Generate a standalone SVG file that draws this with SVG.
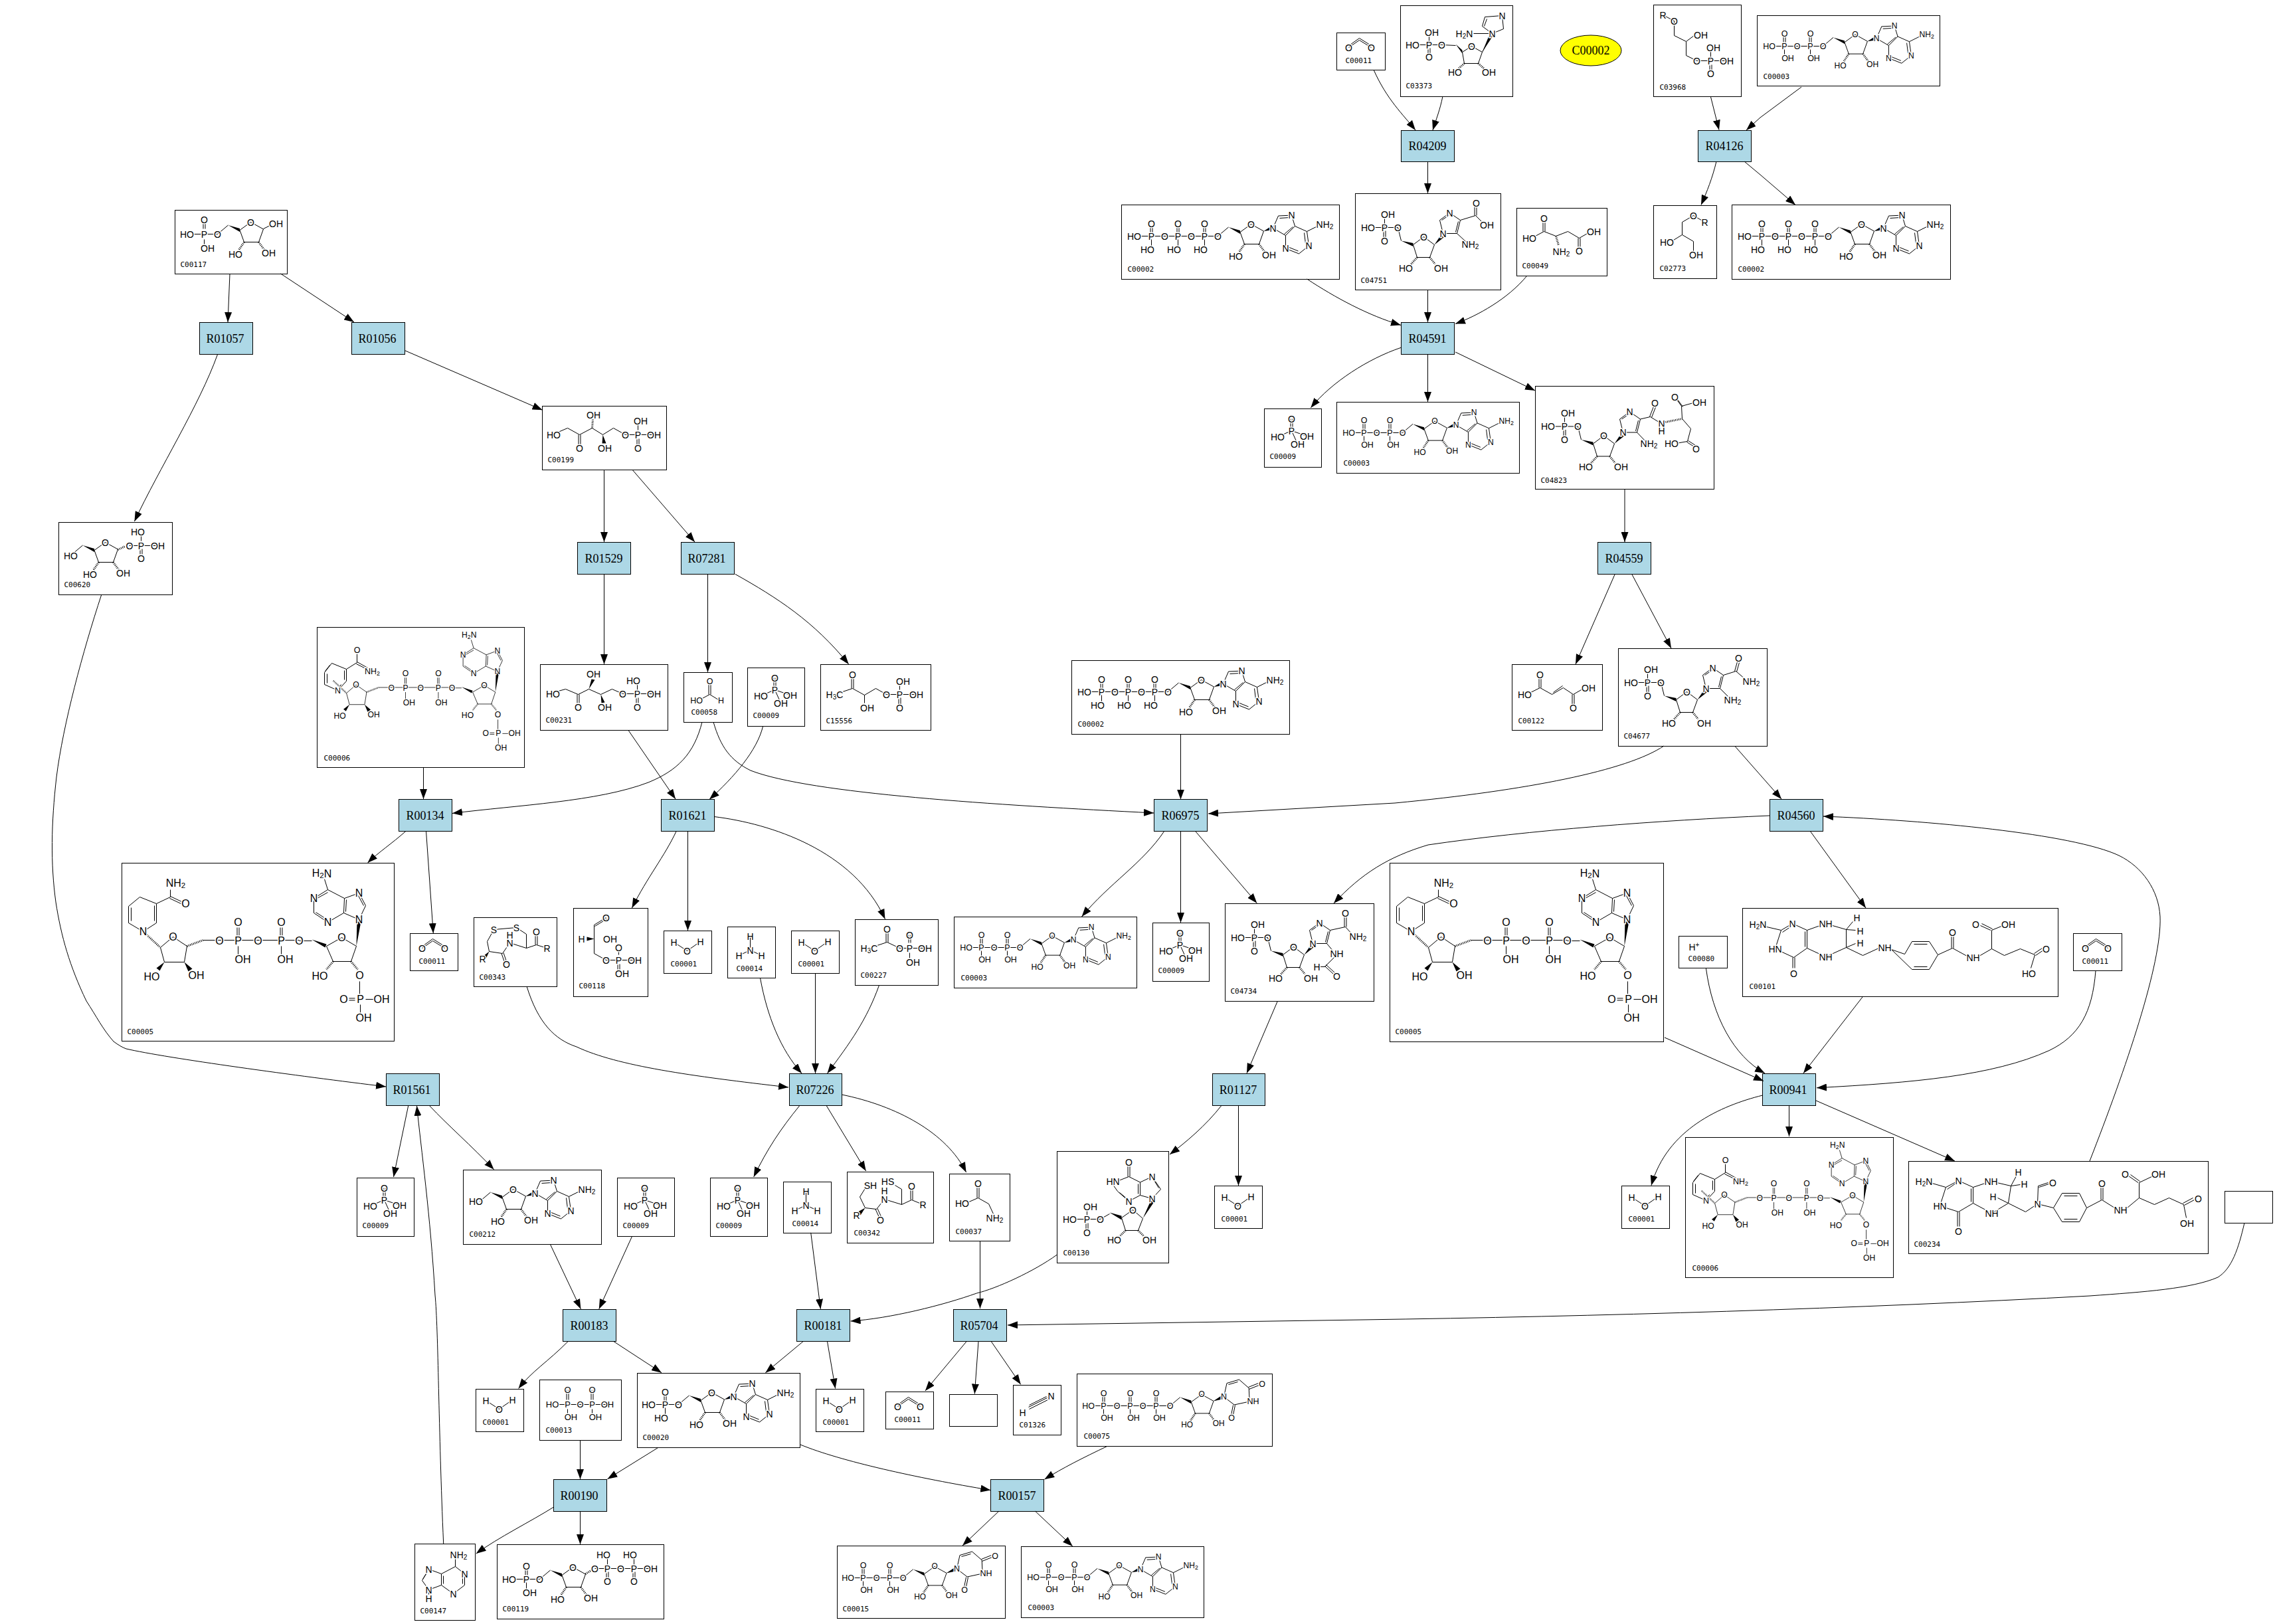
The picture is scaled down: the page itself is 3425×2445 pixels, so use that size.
<svg xmlns="http://www.w3.org/2000/svg" width="3425" height="2445" viewBox="0 0 3425 2445">
<style>
svg{font-size:14px;background:#fff}
text{font-family:"Liberation Sans",Arial,sans-serif;text-anchor:middle;dominant-baseline:central;fill:#000;stroke:#fff;stroke-width:3px;paint-order:stroke}
path{fill:none;stroke:#000;stroke-width:1}
polygon{fill:#000}
.h{stroke-width:3;stroke-dasharray:1 1.5}
.s{font-size:.72em}
.l{font-family:"DejaVu Sans Mono",monospace;font-size:11px;text-anchor:start;stroke:none}
.t{font-family:"Liberation Serif",serif;font-size:18px;stroke:none}
.n{fill:#fff;stroke:#000;stroke-width:1}
.x{fill:#add8e6;stroke:#000;stroke-width:1}
.y{fill:#ff0;stroke:#000;stroke-width:1}
.e path{marker-end:url(#ar)}
.f11{font-size:11.5px}.f12{font-size:12.5px}.f13{font-size:13px}.f15{font-size:16px}.f16{font-size:16px}
</style>
<defs>
<marker id="ar" markerUnits="userSpaceOnUse" markerWidth="15" markerHeight="11" refX="15" refY="5.5" orient="auto"><polygon points="0,0 15,5.5 0,11"/></marker>
<g id="p1"><path d="M-1.5 -5V-14M1.5 -5V-14M0 5V15"/><text>P</text><text y="-19">O</text><text x="-6" y="20">HO</text></g>
<g id="p2"><path d="M-1.5 -5V-14M1.5 -5V-14M0 5V13"/><text>P</text><text y="-19">O</text><text x="5" y="18">OH</text></g>
<g id="rib"><path d="M0 0L16 -13.5M33.5 -6L50 -18L69 -7.5L62 12H40Z"/><polygon points="16,-13.5 33.5,-8.5 33.5,-3.5"/><path class="h" d="M40 12L32 24M62 12L70 23"/><text x="50" y="-18">O</text><text x="27" y="30">HO</text><text x="77" y="28">OH</text></g>
<g id="ade"><polygon points="69,-7.5 79,-14 80,-9"/><path d="M83 -12L91 -30.5L111 -31.4L116 -15L102 -1L83 -12M93 -27L108 -28M113 -14L100 -3M102 -1V18.6L122 26.5L137 14.5L134 -7L116 -15M105 16L121 22.5M132 11L130 -5M134 -7L150 -15"/><text x="83" y="-12">N</text><text x="111" y="-31.4">N</text><text x="102" y="18.6">N</text><text x="137" y="14.5">N</text><text x="161" y="-18">NH<tspan class="s" dy="3">2</tspan></text></g>
<g id="adn"><use href="#rib"/><use href="#ade"/></g>
<g id="urd"><use href="#rib" transform="scale(.95)"/><polygon points="65,-7 77,-15 79,-10"/><path d="M81 -13.5L85.5 -34L104 -39.5L118.7 -26.7L119.7 -6.5L96.7 -1.5ZM88 -32L102 -36M118 -28L133 -34M119 -25L134 -31M95 -1L92 14M98 -1L95 14"/><text x="81" y="-13.5">N</text><text x="138.6" y="-32.5">O</text><text x="125" y="-6.5">NH</text><text x="92.6" y="18.5">O</text></g>
<g id="atp"><path d="M28 47H145"/><use href="#p1" x="45" y="47"/><use href="#p1" x="85" y="47"/><use href="#p1" x="125" y="47"/><text x="19" y="47">HO</text><text x="65" y="47">O</text><text x="105" y="47">O</text><use href="#adn" x="145" y="47"/><text x="145" y="47">O</text></g>
<g id="adp" class="f12"><path d="M26 46H99"/><use href="#p2" x="41" y="46"/><use href="#p2" x="80" y="46"/><text x="18" y="46">HO</text><text x="60" y="46">O</text><use href="#adn" transform="translate(99 46) scale(.97)"/><text x="99" y="46">O</text></g>
<g id="aic"><path d="M28 51H64M44 51V35M42.5 56V66M45.5 56V66M64 51L69 71M87 77L103 65L119 77L112 96H93ZM132 60L127 40L142 29L158 40L153 60ZM130 40L142 32M155 42L151 58"/><polygon points="69,71 87,74.5 87,79.5"/><polygon points="119,77 129,62 133,66"/><path class="h" d="M93 96L84 106M112 96L120 106"/><text x="49" y="31">OH</text><text x="19" y="51">HO</text><text x="44" y="51">P</text><text x="64" y="51">O</text><text x="44" y="71">O</text><text x="103" y="65">O</text><text x="76" y="112">HO</text><text x="129" y="112">OH</text><text x="132" y="60">N</text><text x="142" y="29">N</text></g>
<g id="nadc"><path d="M58 127L77 111L98 125L94 149H64ZM122 116H267M173.5 109V97M176.5 109V97M175 125V138M238.5 109V97M241.5 109V97M240 125V138M267 117H286M308 125L331 112L353 125L345 148H318ZM358 178V197M359 213V225M342 203.5H351M342 206.5H351M367 205H382M357 85L367 64L357 45L335 53L334 75ZM364 64L356 49M338 55L337 73M334 75L310 89L289 75V53L310 40L335 53M309 85L292 74M292 54L310 44M310 40L305 24"/><path class="h" d="M32 103L58 127M98 125L122 116M318 148L308 160M345 148L355 160"/><polygon points="286,115 308,122 306,127"/><polygon points="353,125 354,88 360,88"/><polygon points="64,149 52,158 57,162"/><polygon points="94,149 100,163 106,159"/><text x="77" y="111">O</text><text x="147" y="117">O</text><text x="175" y="117">P</text><text x="175" y="89">O</text><text x="182" y="145">OH</text><text x="205" y="117">O</text><text x="240" y="117">P</text><text x="240" y="89">O</text><text x="246" y="145">OH</text><text x="267" y="117">O</text><text x="331" y="112">O</text><text x="45" y="171">HO</text><text x="112" y="169">OH</text><text x="298" y="170">HO</text><text x="358" y="169">O</text><text x="359" y="205">P</text><text x="334" y="205">O</text><text x="391" y="205">OH</text><text x="364" y="233">OH</text><text x="357" y="85">N</text><text x="357" y="45">N</text><text x="310" y="89">N</text><text x="289" y="53">N</text><text x="301" y="15">H<tspan class="s" dy="3">2</tspan><tspan dy="-3">N</tspan></text></g>
<g id="nadph"><use href="#nadc"/><path d="M73 51V40M52 61L73 51M73 50L90 58M72 53L89 61M52 61L27 51L10 65V90L32 103L52 90ZM14 67V87M49 64V87"/><text x="32" y="103">N</text><text x="81" y="30">NH<tspan class="s" dy="3">2</tspan></text><text x="96" y="61">O</text></g>
<g id="nadp"><use href="#nadc" class="f15" transform="scale(.76 .78)"/><path d="M60 53V40M44 63L60 53M60 52L76 61M59 55L75 63M44 63L22 54L11 68V86L31 95L44 81ZM15 70V84M41 65V79M19 57L12 66M31 95L36 86"/><text x="31" y="95" class="f12">N</text><text x="83" y="66" class="f12">NH<tspan class="s" dy="3">2</tspan></text><text x="60" y="34" class="f12">O</text></g>
<g id="h2o"><path d="M15 17L35 30L55 16"/><text x="15" y="17">H</text><text x="35" y="30">O</text><text x="55" y="16">H</text></g>
<g id="co2"><path d="M18 22L34 11L52 22M20 18L34 8L50 18"/><text x="18" y="22">O</text><text x="52" y="22">O</text></g>
<g id="nh3"><path d="M34 14V35L17 43M34 35L51 43"/><text x="34" y="14">H</text><text x="34" y="35">N</text><text x="17" y="43">H</text><text x="51" y="43">H</text></g>
<g id="pi"><path d="M39.5 15V33M42.5 15V33M41 33L20 42M41 33L64 41M41 33L50 53"/><text x="41" y="15">O</text><text x="41" y="33">P</text><text x="20" y="42">HO</text><text x="64" y="41">OH</text><text x="50" y="53">OH</text></g>
</defs>
<g id="nodes">
<g id="C00011_1" transform="translate(2012.5 49.5)"><rect class="n" width="73" height="56"/><use href="#co2"/><text class="l" x="13" y="42">C00011</text></g>
<g id="C03373" transform="translate(2108.5 8.5)"><rect class="n" width="169" height="137"/><path d="M26 59H62M43 59V45M41.5 64V72M44.5 64V72M62 59L83 60M93 70L107 61L123 70L117 87H96ZM138 42L123 31L127 17L153 15L155 35ZM126 31L130 20M138 42L123 70M138 42L110 42"/><polygon points="83,58 93,67 93,72"/><polygon points="123,70 135,41 140,44"/><path class="h" d="M96 87L87 95M117 87L126 95"/><text x="18" y="59">HO</text><text x="43" y="59">P</text><text x="47" y="40">OH</text><text x="43" y="77">O</text><text x="62" y="59">O</text><text x="107" y="61">O</text><text x="82" y="100">HO</text><text x="133" y="100">OH</text><text x="138" y="42">N</text><text x="153" y="15">N</text><text x="96" y="42">H<tspan class="s" dy="3">2</tspan><tspan dy="-3">N</tspan></text><text class="l" x="8" y="121">C03373</text></g>
<g id="C00002" ><ellipse class="y" cx="2395" cy="76" rx="46" ry="23"/><text class="t" x="2395" y="76">C00002</text></g>
<g id="C03968" transform="translate(2489.5 7.5)"><rect class="n" width="132" height="138"/><path d="M14 15L31 24V46L49 55V76L65 84H110M49 55L61 46"/><path d="M86 84V70M84.5 90V98M87.5 90V98"/><text x="14" y="15">R</text><text x="31" y="24">O</text><text x="71" y="45">OH</text><text x="65" y="84">O</text><text x="86" y="84">P</text><text x="90" y="64">OH</text><text x="110" y="84">OH</text><text x="86" y="103">O</text><text class="l" x="9" y="124">C03968</text></g>
<g id="C00003_1" transform="translate(2645.5 23.5)"><rect class="n" width="275" height="106"/><use href="#adp"/><text class="l" x="9" y="92">C00003</text></g>
<g id="R04209"><rect class="x" x="2109.5" y="196.5" width="80" height="47"/><text class="t" x="2149" y="220">R04209</text></g>
<g id="R04126"><rect class="x" x="2556.5" y="196.5" width="80" height="47"/><text class="t" x="2596" y="220">R04126</text></g>
<g id="C00002_1" transform="translate(1688.5 308.5)"><rect class="n" width="328" height="112"/><use href="#atp"/><text class="l" x="9" y="97">C00002</text></g>
<g id="C04751" transform="translate(2040.5 291.5)"><rect class="n" width="219" height="145"/><use href="#aic"/><path d="M153 60L166 72M158 40L181 33M179.5 33V20M182.5 33V20M181 33L192 44"/><text x="173" y="76">NH<tspan class="s" dy="3">2</tspan></text><text x="182" y="14">O</text><text x="198" y="47">OH</text><text class="l" x="8" y="131">C04751</text></g>
<g id="C00049" transform="translate(2283.5 313.5)"><rect class="n" width="136" height="102"/><path d="M39.5 35V20M42.5 35V20M41 35L26 43M41 35L59 42L77 35L94 45L108 37M92.5 45V58M95.5 45V58"/><path class="h" d="M59 42L63 56"/><text x="41" y="15">O</text><text x="19" y="45">HO</text><text x="67" y="65">NH<tspan class="s" dy="3">2</tspan></text><text x="116" y="35">OH</text><text x="94" y="64">O</text><text class="l" x="8" y="87">C00049</text></g>
<g id="C02773" transform="translate(2489.5 309.5)"><rect class="n" width="95" height="110"/><path d="M60 15L77 25M60 15L43 25V44L60 54V70M43 44L30 52"/><text x="60" y="15">O</text><text x="77" y="25">R</text><text x="20" y="55">HO</text><text x="64" y="74">OH</text><text class="l" x="9" y="95">C02773</text></g>
<g id="C00002_2" transform="translate(2607.5 308.5)"><rect class="n" width="329" height="112"/><use href="#atp"/><text class="l" x="9" y="97">C00002</text></g>
<g id="R04591"><rect class="x" x="2109.5" y="485.5" width="80" height="48"/><text class="t" x="2149" y="510">R04591</text></g>
<g id="C00009_1" transform="translate(1903.5 615.5)"><rect class="n" width="86" height="88"/><use href="#pi"/><text class="l" x="8" y="72">C00009</text></g>
<g id="C00003_2" transform="translate(2012.5 605.5)"><rect class="n" width="275" height="107"/><use href="#adp"/><text class="l" x="10" y="92">C00003</text></g>
<g id="C04823" transform="translate(2311.5 581.5)"><rect class="n" width="269" height="155"/><use href="#aic" y="9.5"/><path d="M153 69.5L165 82M158 49.5L173 46M172 46L179 28M175 47L182 29M173 46L186 54M221 49L220 30M220 30L212 19M222 31L214 20M220 30L238 25M221 49L234 64L229 83L212 86M228 84L239 91M230 82L241 89"/><path class="h" d="M196 54L221 49"/><text x="171" y="86">NH<tspan class="s" dy="3">2</tspan></text><text x="180" y="25">O</text><text x="190" y="56">N</text><text x="190" y="67">H</text><text x="210" y="16">O</text><text x="247" y="24">OH</text><text x="205" y="86">HO</text><text x="242" y="94">O</text><text class="l" x="8" y="142">C04823</text></g>
<g id="C00117" transform="translate(263.5 316.5)"><rect class="n" width="169" height="96"/><path d="M26 36H64M42.5 16V28M45.5 16V28M44 44V52"/><use href="#rib" x="64" y="36"/><path d="M133 28L145 22"/><text x="18" y="36">HO</text><text x="44" y="36">P</text><text x="44" y="14">O</text><text x="49" y="57">OH</text><text x="64" y="36">O</text><text x="152" y="20">OH</text><text class="l" x="8" y="82">C00117</text></g>
<g id="R01057"><rect class="x" x="300.5" y="485.5" width="80" height="48"/><text class="t" x="339" y="510">R01057</text></g>
<g id="R01056"><rect class="x" x="529.5" y="485.5" width="80" height="48"/><text class="t" x="568" y="510">R01056</text></g>
<g id="C00620" transform="translate(88.5 786.5)"><rect class="n" width="171" height="109"/><use href="#rib" x="20" y="48"/><path class="h" d="M89 41L100 36"/><path d="M106 35H149M124 20V28M122.5 40V48M125.5 40V48"/><text x="18" y="50">HO</text><text x="106.5" y="35">O</text><text x="124" y="35">P</text><text x="119" y="14">HO</text><text x="124" y="54">O</text><text x="149" y="35">OH</text><text class="l" x="8" y="94">C00620</text></g>
<g id="C00199" transform="translate(816.5 611.5)"><rect class="n" width="187" height="96"/><path d="M24 39L38 33L56 43L75 33L91 43L107 33L125 43H168M54.5 43V58M57.5 43V58M144 28V36M142.5 49V58M145.5 49V58"/><path class="h" d="M75 33L76 20"/><polygon points="91,43 90,56 96,56"/><text x="17" y="43">HO</text><text x="56" y="63">O</text><text x="77" y="13">OH</text><text x="94" y="63">OH</text><text x="125" y="43">O</text><text x="144" y="43">P</text><text x="148" y="22">OH</text><text x="144" y="63">O</text><text x="168" y="43">OH</text><text class="l" x="8" y="81">C00199</text></g>
<g id="R01529"><rect class="x" x="869.5" y="816.5" width="80" height="48"/><text class="t" x="909" y="841">R01529</text></g>
<g id="R07281"><rect class="x" x="1025.5" y="816.5" width="80" height="48"/><text class="t" x="1064" y="841">R07281</text></g>
<g id="C00006_1" transform="translate(477.5 944.5)"><rect class="n" width="312" height="211"/><use href="#nadp"/><text class="l" x="10" y="197">C00006</text></g>
<g id="C00231" transform="translate(813.5 1000.5)"><rect class="n" width="192" height="99"/><path d="M27 40L38 37L57 45L73 37L91 45L108 37L124 44H171M55.5 45V58M58.5 45V58M146 30V38M144.5 50V58M147.5 50V58"/><polygon points="73,37 77,22 82,23"/><polygon points="91,45 92,58 97,57"/><text x="19" y="44">HO</text><text x="57" y="64">O</text><text x="80" y="14">OH</text><text x="97" y="64">OH</text><text x="124" y="44">O</text><text x="146" y="44">P</text><text x="140" y="24">HO</text><text x="146" y="64">O</text><text x="171" y="44">OH</text><text class="l" x="8" y="84">C00231</text></g>
<g id="C00058" transform="translate(1029.5 1012.5)"><rect class="n" width="73" height="75"/><path d="M37.5 33V18M40.5 33V18M39 33L26 40M39 33L52 41"/><text x="39" y="13" class="f12">O</text><text x="19" y="42" class="f12">HO</text><text x="56" y="42" class="f12">H</text><text class="l" x="11" y="60">C00058</text></g>
<g id="C00009_2" transform="translate(1125.5 1005.5)"><rect class="n" width="86" height="88"/><use href="#pi"/><text class="l" x="8" y="72">C00009</text></g>
<g id="C15556" transform="translate(1235.5 1000.5)"><rect class="n" width="166" height="99"/><path d="M30 42L48 36L66 46L83 36L99 45H144M46.5 36V20M49.5 36V20M66 46V58M119 30V38M117.5 50V60M120.5 50V60"/><text x="21" y="45">H<tspan class="s" dy="3">3</tspan><tspan dy="-3">C</tspan></text><text x="48" y="15">O</text><text x="70" y="65">OH</text><text x="99" y="45">O</text><text x="119" y="45">P</text><text x="124" y="25">OH</text><text x="119" y="65">O</text><text x="144" y="45">OH</text><text class="l" x="8" y="85">C15556</text></g>
<g id="C00122" transform="translate(2276.5 1000.5)"><rect class="n" width="136" height="99"/><path d="M40.5 35V20M43.5 35V20M42 35L26 43M42 35L60 45L77 35L92 45L106 37M62 42L76 32M90.5 45V60M93.5 45V60"/><text x="42" y="15">O</text><text x="19" y="45">HO</text><text x="115" y="35">OH</text><text x="92" y="65">O</text><text class="l" x="9" y="85">C00122</text></g>
<g id="C04677" transform="translate(2436.5 976.5)"><rect class="n" width="224" height="147"/><use href="#aic"/><path d="M153 60L165 72M158 40L177 34M175 34L179 20M178 35L182 21M177 34L192 47"/><text x="172" y="77">NH<tspan class="s" dy="3">2</tspan></text><text x="181" y="14">O</text><text x="200" y="49">NH<tspan class="s" dy="3">2</tspan></text><text class="l" x="8" y="132">C04677</text></g>
<g id="R04559"><rect class="x" x="2405.5" y="816.5" width="80" height="48"/><text class="t" x="2445" y="841">R04559</text></g>
<g id="C00002_3" transform="translate(1613.5 994.5)"><rect class="n" width="328" height="111"/><use href="#atp"/><text class="l" x="9" y="96">C00002</text></g>
<g id="R00134"><rect class="x" x="600.5" y="1203.5" width="80" height="48"/><text class="t" x="640" y="1228">R00134</text></g>
<g id="R01621"><rect class="x" x="995.5" y="1203.5" width="80" height="48"/><text class="t" x="1035" y="1228">R01621</text></g>
<g id="R06975"><rect class="x" x="1737.5" y="1203.5" width="80" height="48"/><text class="t" x="1777" y="1228">R06975</text></g>
<g id="R04560"><rect class="x" x="2664.5" y="1203.5" width="80" height="48"/><text class="t" x="2704" y="1228">R04560</text></g>
<g id="C00005_1" transform="translate(183.5 1299.5)"><rect class="n" width="410" height="268"/><use href="#nadph" class="f16"/><text class="l" x="8" y="254">C00005</text></g>
<g id="C00011_2" transform="translate(617.5 1405.5)"><rect class="n" width="72" height="56"/><use href="#co2"/><text class="l" x="13" y="42">C00011</text></g>
<g id="C00343" transform="translate(713.5 1381.5)"><rect class="n" width="125" height="104"/><path d="M30 18L64 15L79 25V46L94 41L110 46M30 18L20 36L23 51L43 54L54 38L79 46M41.5 54L47 70M44.5 53L50 69M92.5 41V25M95.5 41V25"/><polygon points="23,51 14,58 18,62"/><text x="30" y="18">S</text><text x="64" y="15">S</text><text x="13" y="62">R</text><text x="49" y="70">O</text><text x="54" y="26">H</text><text x="54" y="38">N</text><text x="94" y="21">O</text><text x="110" y="46">R</text><text class="l" x="8" y="90">C00343</text></g>
<g id="C00118" transform="translate(863.5 1367.5)"><rect class="n" width="112" height="133"/><path d="M31 25L49 14M32 27L50 16M31 25V68L49 78H92M68 62V70M66.5 84V92M69.5 84V92"/><polygon points="31,46 20,43 20,49"/><text x="49" y="14">O</text><text x="12" y="46">H</text><text x="55" y="46">OH</text><text x="49" y="78">O</text><text x="68" y="78">P</text><text x="68" y="59">O</text><text x="92" y="78">OH</text><text x="73" y="98">OH</text><text class="l" x="8" y="117">C00118</text></g>
<g id="C00001_1" transform="translate(999.5 1401.5)"><rect class="n" width="72" height="64"/><use href="#h2o"/><text class="l" x="10" y="49.5">C00001</text></g>
<g id="C00014_1" transform="translate(1095.5 1395.5)"><rect class="n" width="72" height="77"/><use href="#nh3"/><text class="l" x="13" y="63">C00014</text></g>
<g id="C00001_2" transform="translate(1191.5 1401.5)"><rect class="n" width="72" height="64"/><use href="#h2o"/><text class="l" x="10" y="49.5">C00001</text></g>
<g id="C00227" transform="translate(1287.5 1384.5)"><rect class="n" width="125" height="99"/><path d="M30 40L48 34L67 43H105M46.5 34V20M49.5 34V20M80.5 23V35M83.5 23V35M82 50V58"/><text x="21" y="43">H<tspan class="s" dy="3">3</tspan><tspan dy="-3">C</tspan></text><text x="48" y="14">O</text><text x="67" y="43">O</text><text x="82" y="43">P</text><text x="82" y="23">O</text><text x="105" y="43">OH</text><text x="87" y="64">OH</text><text class="l" x="8" y="84">C00227</text></g>
<g id="C00003_3" transform="translate(1436.5 1380.5)"><rect class="n" width="275" height="107"/><use href="#adp"/><text class="l" x="10" y="92">C00003</text></g>
<g id="C00009_3" transform="translate(1735.5 1389.5)"><rect class="n" width="85" height="88"/><use href="#pi"/><text class="l" x="8" y="72">C00009</text></g>
<g id="C04734" transform="translate(1844.5 1360.5)"><rect class="n" width="224" height="147"/><use href="#aic"/><path d="M153 60L163 72M158 40L181 35M179.5 35V20M182.5 35V20M181 35L192 47M165 80L150 95H143M150 94L163 106M152 92L165 104"/><text x="181" y="14">O</text><text x="200" y="49">NH<tspan class="s" dy="3">2</tspan></text><text x="168" y="75.5">NH</text><text x="138" y="95">H</text><text x="168" y="109">O</text><text class="l" x="8" y="132">C04734</text></g>
<g id="C00005_2" transform="translate(2092.5 1299.5)"><rect class="n" width="412" height="269"/><use href="#nadph" class="f16"/><text class="l" x="8" y="254">C00005</text></g>
<g id="C00080" transform="translate(2527.5 1409.5)"><rect class="n" width="73" height="48"/><text x="23" y="16">H<tspan class="s" dy="-4">+</tspan></text><text class="l" x="14" y="34">C00080</text></g>
<g id="C00101" transform="translate(2623.5 1367.5)"><rect class="n" width="475" height="133"/><path d="M32 27L58 33L75 23L97 33L125 23L156 32V59L125 73L97 60V33M94 35V58M58 33L49 61L77 74L97 60M60 36L72 28M75.5 74V90M78.5 74V90M156 32L166 20M156 32L170 33M156 59L170 53M156 59L181 71L205 60M224 62L244 69L255 50H281L294 70L281 92H255ZM258 54H278M258 88H278M294 70L316 60L338 72M314.5 60V42M317.5 60V42M356 72L375 61L394 71L418 61L440 70M375 61V33M373.5 33L358 26M376 31L360 23M375 33L392 26M439 68L451 60M441 71L453 63M440 70L434 90"/><text x="23" y="24">H<tspan class="s" dy="3">2</tspan><tspan dy="-3">N</tspan></text><text x="75" y="23">N</text><text x="125" y="23">NH</text><text x="172" y="14">H</text><text x="177" y="34">H</text><text x="177" y="52">H</text><text x="125" y="73">NH</text><text x="49" y="61">HN</text><text x="77" y="98">O</text><text x="214" y="59">NH</text><text x="316" y="36">O</text><text x="347" y="74">NH</text><text x="351" y="24">O</text><text x="400" y="24">OH</text><text x="457" y="61">O</text><text x="431" y="98">HO</text><text class="l" x="10" y="118">C00101</text></g>
<g id="C00011_3" transform="translate(3121.5 1405.5)"><rect class="n" width="73" height="56"/><use href="#co2"/><text class="l" x="13" y="42">C00011</text></g>
<g id="R01561"><rect class="x" x="581.5" y="1616.5" width="80" height="48"/><text class="t" x="620" y="1641">R01561</text></g>
<g id="R07226"><rect class="x" x="1188.5" y="1616.5" width="79" height="48"/><text class="t" x="1227" y="1641">R07226</text></g>
<g id="R01127"><rect class="x" x="1825.5" y="1616.5" width="79" height="48"/><text class="t" x="1864" y="1641">R01127</text></g>
<g id="R00941"><rect class="x" x="2653.5" y="1616.5" width="80" height="48"/><text class="t" x="2692" y="1641">R00941</text></g>
<g id="C00009_4" transform="translate(537.5 1773.5)"><rect class="n" width="86" height="88"/><use href="#pi"/><text class="l" x="8" y="72">C00009</text></g>
<g id="C00212" transform="translate(697.5 1761.5)"><rect class="n" width="208" height="112"/><use href="#adn" x="25" y="47"/><text x="19" y="47">HO</text><text class="l" x="9" y="97">C00212</text></g>
<g id="C00009_5" transform="translate(929.5 1773.5)"><rect class="n" width="86" height="88"/><use href="#pi"/><text class="l" x="8" y="72">C00009</text></g>
<g id="C00009_6" transform="translate(1069.5 1773.5)"><rect class="n" width="86" height="88"/><use href="#pi"/><text class="l" x="8" y="72">C00009</text></g>
<g id="C00014_2" transform="translate(1179.5 1779.5)"><rect class="n" width="72" height="77"/><use href="#nh3"/><text class="l" x="13" y="63">C00014</text></g>
<g id="C00342" transform="translate(1275.5 1764.5)"><rect class="n" width="130" height="107"/><path d="M28 23L19 37.5L27 54L44 56L56 41L82 49M42.5 56L48 68M45.5 55L51 67M82 49V26L72 20M82 49L97 42L114 49M95.5 42V25M98.5 42V25"/><polygon points="27,54 16,60 20,65"/><text x="35" y="20">SH</text><text x="14" y="65">R</text><text x="50" y="72">O</text><text x="56" y="28">H</text><text x="56" y="41">N</text><text x="61" y="14">HS</text><text x="97" y="21">O</text><text x="114" y="49">R</text><text class="l" x="10" y="92">C00342</text></g>
<g id="C00037" transform="translate(1429.5 1767.5)"><rect class="n" width="91" height="101"/><path d="M41.5 36V19M44.5 36V19M43 36L27 43M43 36L59 45L66 60"/><text x="43" y="14">O</text><text x="19" y="44">HO</text><text x="68" y="66">NH<tspan class="s" dy="3">2</tspan></text><text class="l" x="9" y="86.5">C00037</text></g>
<g id="C00130" transform="translate(1591.5 1733.5)"><rect class="n" width="168" height="168"/><path d="M106.5 38V21M109.5 38V21M108 38L90 45M84 50L91 60L108 75L125 66V46.5L108 38M94 62L106 72M122 64V49M125 46.5L143 38L156 57L143 71L125 66M145 42L153 55M27 102H65M45 90V96M43.5 108V118M46.5 108V118M65 102L79 94M97 100L114 88L129 101L122 119H103Z"/><polygon points="79,92 97,97 97,103"/><polygon points="129,101 141,74 146,76"/><path class="h" d="M103 119L94 128M122 119L131 128"/><text x="108" y="16">O</text><text x="84" y="45">HN</text><text x="108" y="75">N</text><text x="143" y="38">N</text><text x="143" y="71">N</text><text x="114" y="88">O</text><text x="65" y="102">O</text><text x="45" y="102">P</text><text x="50" y="83">OH</text><text x="19" y="102">HO</text><text x="45" y="122">O</text><text x="86" y="133">HO</text><text x="139" y="133">OH</text><text class="l" x="9" y="153">C00130</text></g>
<g id="C00001_3" transform="translate(1828.5 1785.5)"><rect class="n" width="72" height="64"/><use href="#h2o"/><text class="l" x="10" y="49.5">C00001</text></g>
<g id="C00001_4" transform="translate(2441.5 1785.5)"><rect class="n" width="72" height="64"/><use href="#h2o"/><text class="l" x="10" y="49.5">C00001</text></g>
<g id="C00006_2" transform="translate(2537.5 1712.5)"><rect class="n" width="313" height="211"/><use href="#nadp"/><text class="l" x="10" y="197">C00006</text></g>
<g id="C00234" transform="translate(2873.5 1748.5)"><rect class="n" width="451" height="139"/><path d="M32 32L56 39L75 29L97 39L124 30L154 37L150 63L125 78L97 63V39M94 41V61M56 39L47 67L75 76L97 63M58 42L71 33M73.5 76V98M76.5 76V98M154 37L162 22M154 37L168 35M150 63L134 55M150 63L176 76L194 64L218 70L231 48H257L268 70L257 91H231L218 70M234 52H254M234 87H254M194 64L195 37L210 32M196 39L211 34M268 70L291 58L310 70M289.5 58V38M292.5 58V38M329 70L347 55L370 65L392 55L414 65M347 55V32M345.5 32L331 22M348 30L334 20M347 32L368 22M413 63L428 55M415 66L430 58M414 65L418 85"/><text x="23" y="30">H<tspan class="s" dy="3">2</tspan><tspan dy="-3">N</tspan></text><text x="75" y="29">N</text><text x="124" y="30">NH</text><text x="165" y="16">H</text><text x="174" y="34">H</text><text x="127" y="53">H</text><text x="125" y="78">NH</text><text x="47" y="67">HN</text><text x="75" y="105">O</text><text x="194" y="64">N</text><text x="217" y="32">O</text><text x="291" y="33">O</text><text x="319" y="73">NH</text><text x="326" y="19">O</text><text x="376" y="19">OH</text><text x="436" y="56">O</text><text x="419" y="93">OH</text><text class="l" x="8" y="125">C00234</text></g>
<g id="empty_1"><rect class="n" x="3349.5" y="1793.5" width="72" height="48"/></g>
<g id="R00183"><rect class="x" x="847.5" y="1971.5" width="80" height="48"/><text class="t" x="887" y="1996">R00183</text></g>
<g id="R00181"><rect class="x" x="1199.5" y="1971.5" width="80" height="48"/><text class="t" x="1239" y="1996">R00181</text></g>
<g id="R05704"><rect class="x" x="1435.5" y="1971.5" width="80" height="48"/><text class="t" x="1474" y="1996">R05704</text></g>
<g id="C00001_5" transform="translate(716.5 2091.5)"><rect class="n" width="72" height="64"/><use href="#h2o"/><text class="l" x="10" y="49.5">C00001</text></g>
<g id="C00013" transform="translate(812.5 2077.5)"><rect class="n" width="123" height="91"/><path d="M27 37H102M40.5 15V30M43.5 15V30M42 44V52M77.5 15V30M80.5 15V30M79 44V52"/><text x="19" y="37" class="f13">HO</text><text x="42" y="37" class="f13">P</text><text x="42" y="15" class="f13">O</text><text x="47" y="56" class="f13">OH</text><text x="61" y="37" class="f13">O</text><text x="79" y="37" class="f13">P</text><text x="79" y="15" class="f13">O</text><text x="84" y="56" class="f13">OH</text><text x="102" y="37" class="f13">OH</text><text class="l" x="9" y="76">C00013</text></g>
<g id="C00020" transform="translate(959.5 2067.5)"><rect class="n" width="245" height="112"/><path d="M25 47H62"/><use href="#p1" x="42" y="47"/><use href="#adn" x="62" y="47"/><text x="17" y="47">HO</text><text x="62" y="47">O</text><text class="l" x="8" y="97">C00020</text></g>
<g id="C00001_6" transform="translate(1228.5 2091.5)"><rect class="n" width="72" height="64"/><use href="#h2o"/><text class="l" x="10" y="49.5">C00001</text></g>
<g id="C00011_4" transform="translate(1333.5 2095.5)"><rect class="n" width="72" height="56"/><use href="#co2"/><text class="l" x="13" y="42">C00011</text></g>
<g id="empty_2"><rect class="n" x="1429.5" y="2099.5" width="72" height="48"/></g>
<g id="C01326" transform="translate(1525.5 2085.5)"><rect class="n" width="72" height="75"/><path d="M23 33L51 19M24 30L50 17M24 36L52 22"/><text x="14" y="41">H</text><text x="57" y="16">N</text><text class="l" x="9" y="60">C01326</text></g>
<g id="C00075" transform="translate(1621.5 2068.5)"><rect class="n" width="294" height="109"/><g class="f12"><path d="M25 48H140"/><use href="#p2" x="40" y="48"/><use href="#p2" x="80" y="48"/><use href="#p2" x="119" y="48"/><text x="17" y="48">HO</text><text x="60" y="48">O</text><text x="99" y="48">O</text><use href="#urd" x="140" y="48"/><text x="140" y="48">O</text></g><text class="l" x="10" y="94">C00075</text></g>
<g id="R00190"><rect class="x" x="833.5" y="2227.5" width="80" height="48"/><text class="t" x="872" y="2252">R00190</text></g>
<g id="R00157"><rect class="x" x="1491.5" y="2227.5" width="80" height="48"/><text class="t" x="1531" y="2252">R00157</text></g>
<g id="C00147" transform="translate(624.5 2324.5)"><rect class="n" width="91" height="115"/><path d="M61 34V22M61 34L75 45V62L58 75L40 62V45L61 34M72 47V60M43 48V60M40 45L21 38L11 55L21 69L40 62M19 42L12 53M21 69V76"/><text x="66" y="16">NH<tspan class="s" dy="3">2</tspan></text><text x="75" y="45">N</text><text x="58" y="75">N</text><text x="21" y="38">N</text><text x="21" y="69">N</text><text x="21" y="82">H</text><text class="l" x="8" y="101">C00147</text></g>
<g id="C00119" transform="translate(748.5 2325.5)"><rect class="n" width="251" height="112"/><path d="M26 52H64M44 57V67M42.5 36V46M45.5 36V46"/><use href="#rib" x="64" y="52"/><path class="h" d="M133 44L143 38"/><path d="M147 36H231M166 20V30M164.5 41V50M167.5 41V50M206 20V30M204.5 41V50M207.5 41V50"/><text x="18" y="52">HO</text><text x="44" y="52">P</text><text x="44" y="32">O</text><text x="49" y="72">OH</text><text x="64" y="52">O</text><text x="147" y="36">O</text><text x="166" y="36">P</text><text x="160" y="15">HO</text><text x="166" y="55">O</text><text x="186" y="36">O</text><text x="206" y="36">P</text><text x="200" y="15">HO</text><text x="206" y="55">O</text><text x="231" y="36">OH</text><text class="l" x="8" y="97">C00119</text></g>
<g id="C00015" transform="translate(1260.5 2327.5)"><rect class="n" width="253" height="109"/><g class="f12"><path d="M24 48H99"/><use href="#p2" x="39" y="48"/><use href="#p2" x="79" y="48"/><text x="16" y="48">HO</text><text x="59" y="48">O</text><use href="#urd" x="99" y="48"/><text x="99" y="48">O</text></g><text class="l" x="8" y="94.5">C00015</text></g>
<g id="C00003_4" transform="translate(1537.5 2328.5)"><rect class="n" width="275" height="107"/><use href="#adp"/><text class="l" x="10" y="92">C00003</text></g>
</g>
<g id="connectors" class="e">
<path d="M2068 105C2088 150 2112 172 2131 196"/>
<path d="M2172 145C2168 165 2162 180 2157 196"/>
<path d="M2149.5 243V291"/>
<path d="M2149.5 437V485"/>
<path d="M1967.6 420C2010 448 2060 475 2109 489.5"/>
<path d="M2298.6 415.5C2270 450 2225 475 2191 487.6"/>
<path d="M2109 523.4C2060 540 2005 575 1973.3 614"/>
<path d="M2149.5 533.5V605"/>
<path d="M2191 530L2311 588"/>
<path d="M2575.4 145.5L2588 195.6"/>
<path d="M2712 131L2650 177L2629 196"/>
<path d="M2584 243C2578 268 2570 288 2561 308.6"/>
<path d="M2626 243L2650 263L2703 308.5"/>
<path d="M346 412L343 485"/>
<path d="M422.5 412L533 485"/>
<path d="M327.5 533.7C300 610 240 705 202.4 785"/>
<path d="M609 527.5L816.6 617.3"/>
<path d="M909.5 707.7V816"/>
<path d="M952.4 707.7L1046 816"/>
<path d="M909.5 864V1000"/>
<path d="M1065.5 864V1012"/>
<path d="M1106.7 864.3C1170 900 1225 935 1277.7 1000"/>
<path d="M152.7 895.5C125 980 95 1090 85 1170C77 1240 76 1300 84 1358C92 1410 105 1455 130 1507C145 1530 155 1550 171 1568C178 1573 184 1577 190 1579C250 1593 450 1620 581 1636"/>
<path d="M637.5 1155V1203"/>
<path d="M1057 1087C1045 1135 1020 1160 976 1178C900 1207 780 1212 681 1224.5"/>
<path d="M1074 1087C1085 1125 1100 1145 1130 1160C1220 1195 1500 1212 1737 1224"/>
<path d="M945.7 1099L1017 1203"/>
<path d="M1148.7 1093C1140 1130 1105 1170 1068 1203.6"/>
<path d="M611 1251.3C590 1270 570 1283 553.5 1299"/>
<path d="M641.5 1251L652.3 1405"/>
<path d="M1018.4 1251C1000 1290 975 1320 951.4 1367"/>
<path d="M1035.5 1251V1401"/>
<path d="M1075.8 1229.6C1160 1240 1285 1280 1332.5 1383.7"/>
<path d="M793 1485C810 1540 835 1565 868 1576C930 1605 1040 1620 1187 1637"/>
<path d="M1144.5 1472.4C1155 1530 1175 1580 1207 1616"/>
<path d="M1227.5 1465V1616"/>
<path d="M1323.4 1483.7C1305 1535 1280 1570 1245.5 1616"/>
<path d="M1777.5 1105.6V1203.6"/>
<path d="M2505 1123C2450 1160 2300 1190 2100 1209L1819 1225"/>
<path d="M1752.7 1251.5C1720 1300 1670 1330 1628.6 1380"/>
<path d="M1777.5 1251.5V1389"/>
<path d="M1799.7 1251.5L1892.3 1359.7"/>
<path d="M2664 1228C2500 1235 2300 1250 2150 1272C2090 1290 2050 1315 2008 1360"/>
<path d="M1923.2 1507.6L1877 1615.8"/>
<path d="M1839 1664.3C1815 1695 1785 1720 1761 1738"/>
<path d="M1864.5 1664V1785"/>
<path d="M1204 1664.3C1175 1700 1155 1730 1134.7 1772"/>
<path d="M1244 1664.3L1303.7 1763"/>
<path d="M1267.3 1648C1350 1665 1425 1705 1454.6 1765"/>
<path d="M2446 736V816"/>
<path d="M2431 865L2372 1000"/>
<path d="M2457 865L2516 976"/>
<path d="M2612 1123.5L2682 1203"/>
<path d="M2725.4 1251.5L2809 1367"/>
<path d="M3146 1748C3200 1610 3255 1450 3252 1380C3250 1340 3225 1305 3190 1288C3120 1255 2900 1235 2745 1229"/>
<path d="M2506 1562L2655 1627.5"/>
<path d="M2568.4 1457.7C2578 1530 2610 1590 2657 1615.8"/>
<path d="M2804.4 1500.5L2715 1615.8"/>
<path d="M3155 1461.7C3150 1525 3130 1560 3085 1581.6C3000 1620 2880 1630 2735 1637.8"/>
<path d="M2653.5 1649C2590 1665 2510 1700 2486 1784.7"/>
<path d="M2693.5 1664V1711"/>
<path d="M2734 1657L2943 1748"/>
<path d="M3379 1841C3370 1880 3360 1910 3339 1923C3300 1940 3230 1945 3146 1951C2800 1970 2400 1982 2050 1987L1517 1995"/>
<path d="M1591.3 1889C1557 1914 1500 1940 1470.4 1947C1420 1965 1340 1985 1280.6 1989"/>
<path d="M1475.5 1868.6V1970"/>
<path d="M1220.7 1855.8L1235.4 1970.8"/>
<path d="M828.4 1873.4L874.4 1970.8"/>
<path d="M951.5 1861.5L901.8 1970.8"/>
<path d="M614.7 1664.7L592.5 1772"/>
<path d="M667.7 2324C660 2150 660 2000 655 1950C648 1830 634 1730 627.5 1665"/>
<path d="M646.6 1664.7C675 1695 710 1725 743.6 1760.8"/>
<path d="M855 2019.7C825 2050 800 2065 780.6 2090.5"/>
<path d="M924 2019.7L996 2066.7"/>
<path d="M1209 2019.7L1152.4 2066.7"/>
<path d="M1245.5 2019.7L1257.6 2090.5"/>
<path d="M1455 2019.7L1392.9 2094"/>
<path d="M1473 2019.7L1467.3 2098.6"/>
<path d="M1492.3 2019.7L1536.7 2084.3"/>
<path d="M873.5 2168V2227"/>
<path d="M991 2179.3L914.5 2226.8"/>
<path d="M1205 2175C1266 2200 1380 2225 1491.3 2243.5"/>
<path d="M1666.8 2177.4C1630 2195 1600 2210 1572.4 2227.3"/>
<path d="M833.5 2269C800 2290 750 2315 716.8 2339"/>
<path d="M873.5 2275V2325"/>
<path d="M1503.6 2275.3L1449 2327"/>
<path d="M1558.7 2275.3L1614.8 2328"/>
</g>
</svg>
